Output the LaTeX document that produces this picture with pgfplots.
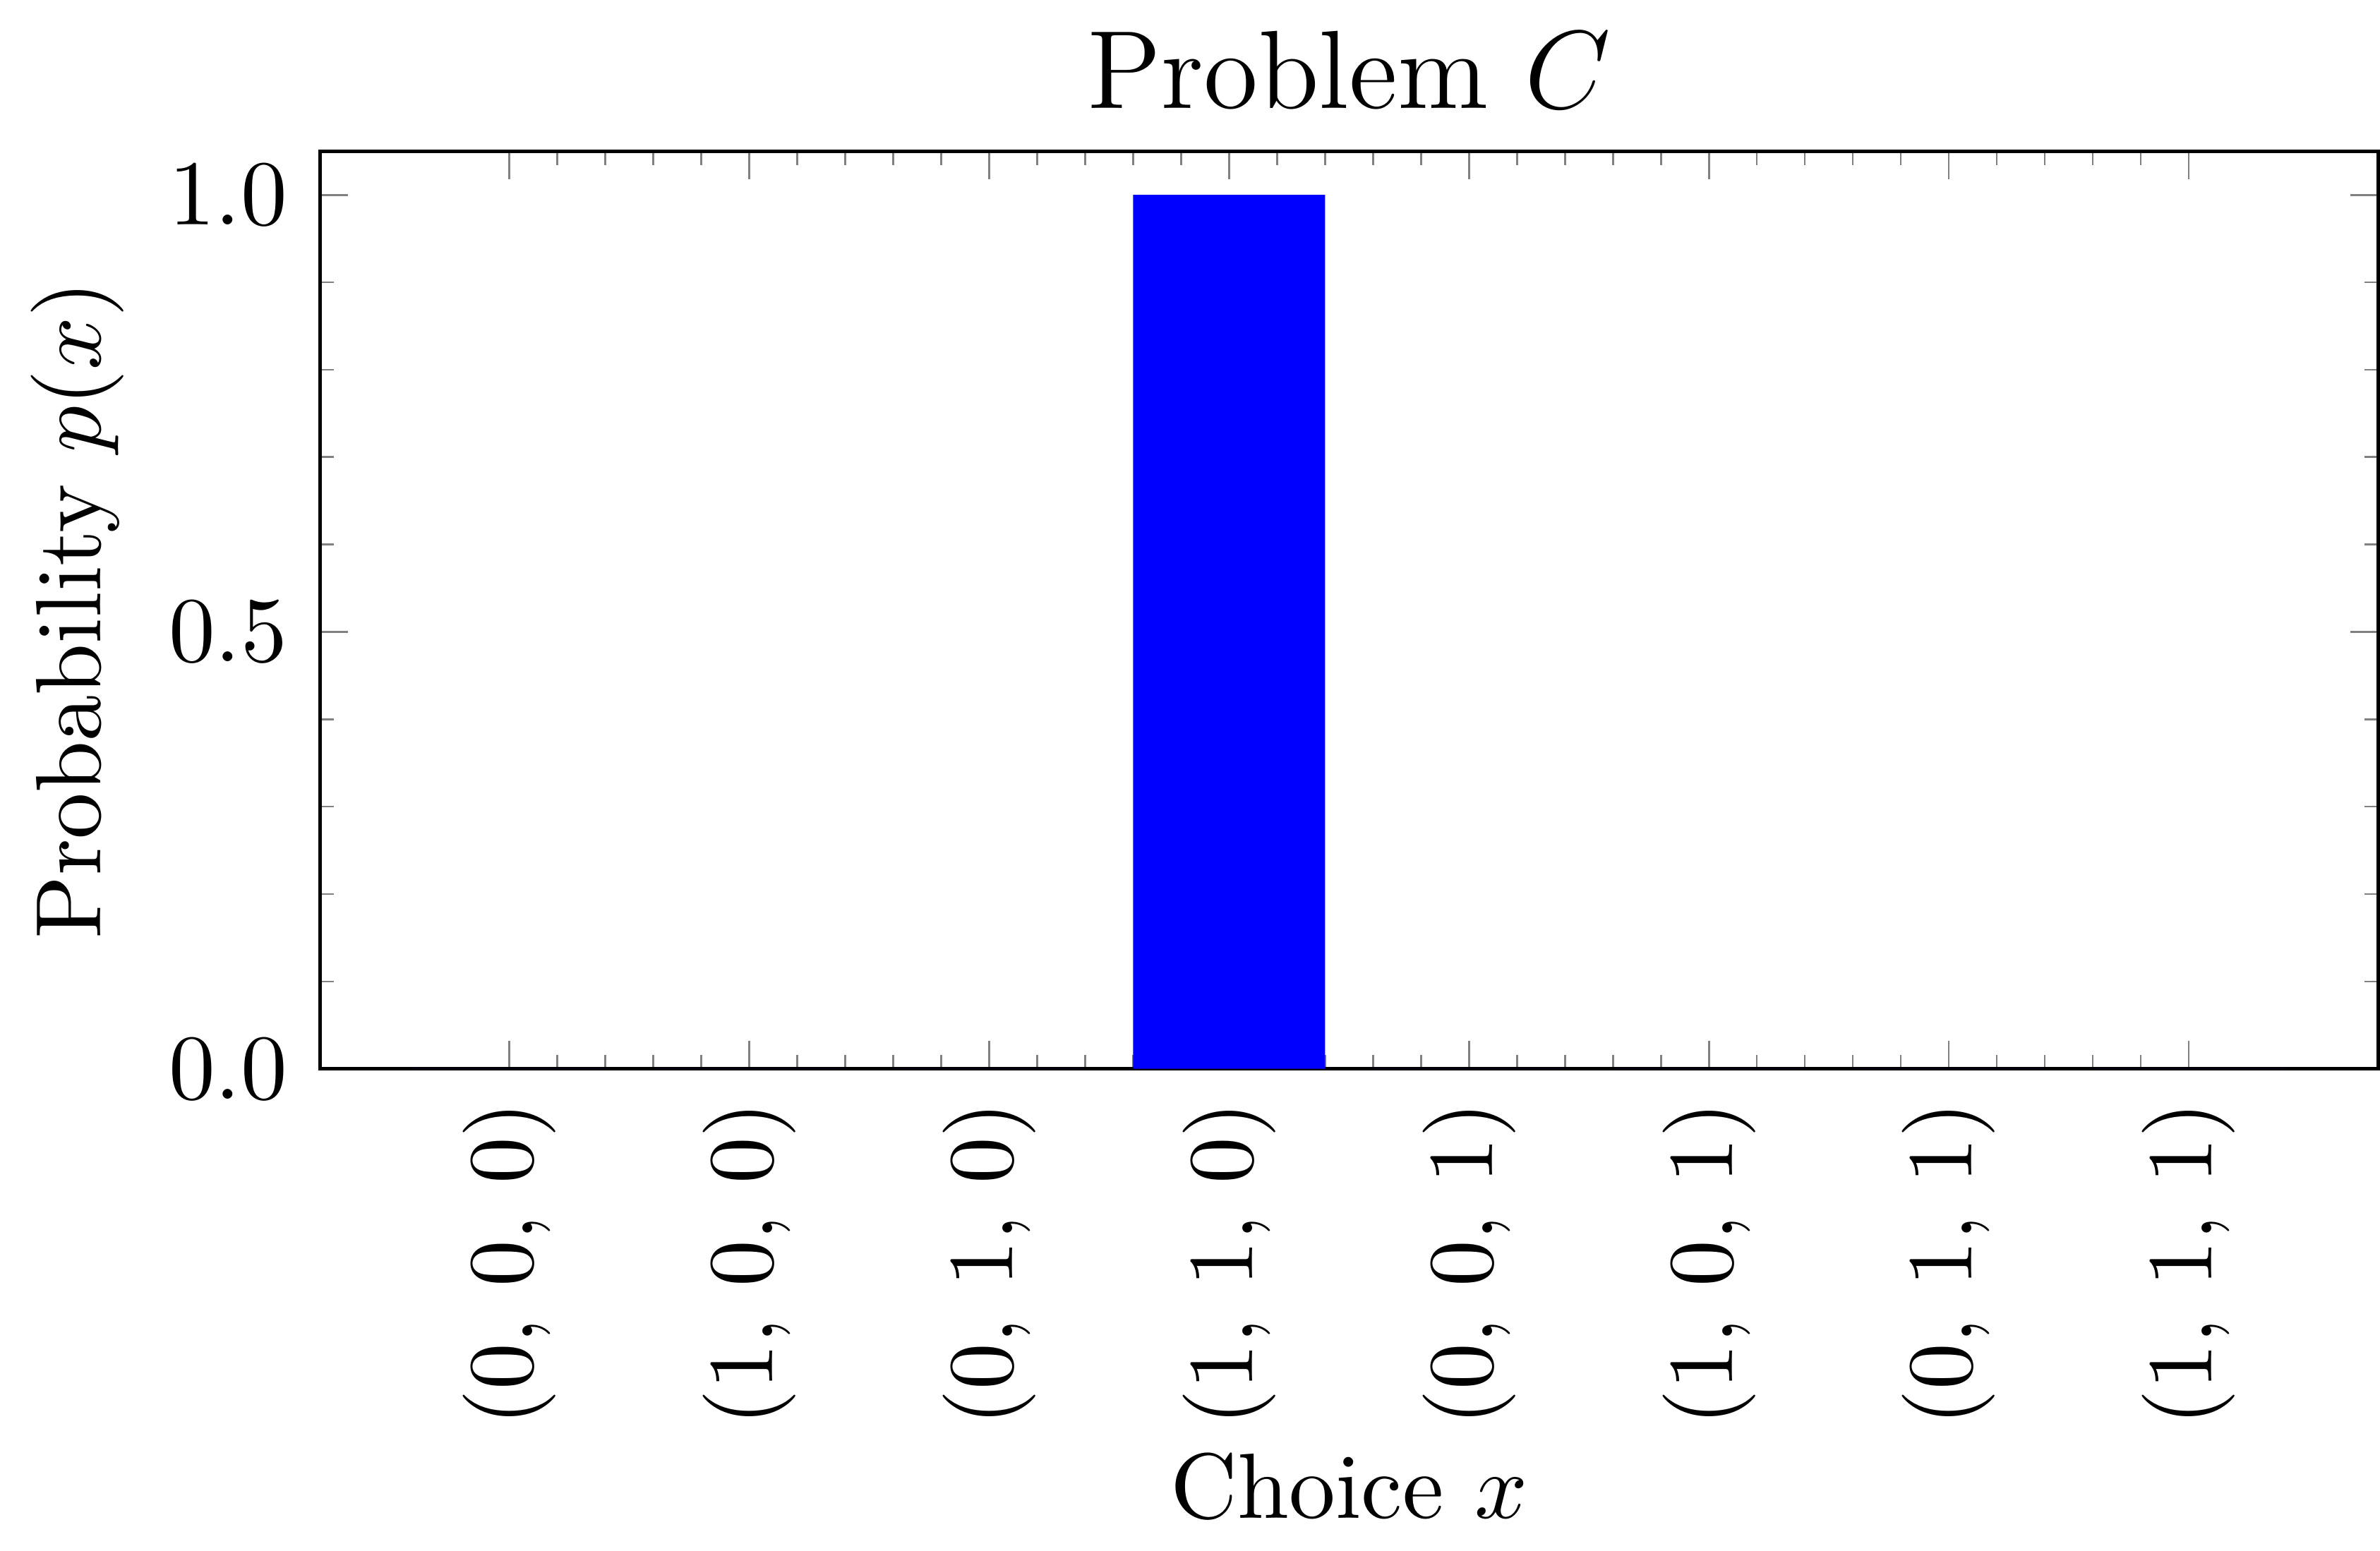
\documentclass[border=0pt]{standalone}
\usepackage{pgfplots}
\pgfplotsset{compat=1.18}
\begin{document}
\begin{tikzpicture}
\begin{axis}[
  scale only axis, width=222pt, height=99pt,
  xmin=-0.79, xmax=7.79, ymin=0, ymax=1.05,
  ybar, bar width=0.8, bar shift=0pt,
  xtick={0,...,7},
  xticklabels={{$(0,\,0,\,0)$},{$(1,\,0,\,0)$},{$(0,\,1,\,0)$},{$(1,\,1,\,0)$},{$(0,\,0,\,1)$},{$(1,\,0,\,1)$},{$(0,\,1,\,1)$},{$(1,\,1,\,1)$}},
  xticklabel style={rotate=90, anchor=east},
  minor x tick num=4,
  ytick={0,0.5,1}, minor y tick num=4,
  yticklabel style={/pgf/number format/fixed,/pgf/number format/fixed zerofill,/pgf/number format/precision=1},
  tick align=inside, tick pos=both,
  major tick length=3pt, minor tick length=1.5pt,
  title={Problem $C$},
  title style={font=\large, yshift=-5pt},
  xlabel={Choice $x$}, ylabel={Probability $p(x)$},
  xlabel style={yshift=4pt},
  ylabel style={yshift=-2pt},
]
\addplot[fill={rgb,255:red,0;green,0;blue,255}, draw=none] coordinates {(0,0) (1,0) (2,0) (3,1) (4,0) (5,0) (6,0) (7,0)};
\end{axis}
\end{tikzpicture}
\end{document}
